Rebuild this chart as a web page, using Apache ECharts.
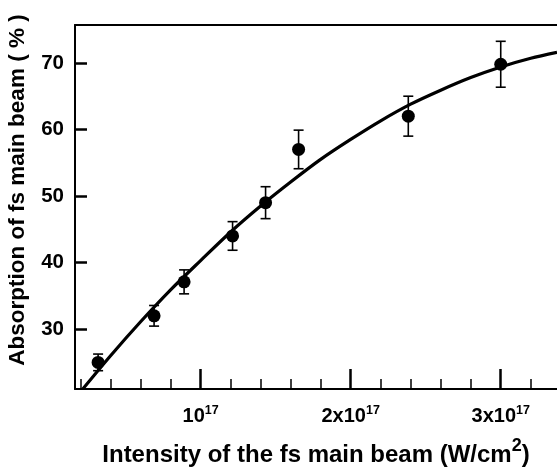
<!DOCTYPE html>
<html>
<head>
<meta charset="utf-8">
<script src="https://cdn.jsdelivr.net/npm/echarts@6/dist/echarts.min.js"></script>
<style>
html,body{margin:0;padding:0;background:#fff;}
#chart{width:557px;height:473px;}
</style>
</head>
<body>
<div id="chart"></div>
<script>
// Measured data points (intensity in units of 1e17 W/cm^2, absorption %)
const intensity = [0.317, 0.69, 0.89, 1.213, 1.433, 1.653, 2.384, 3.0];
const absorption = [25.0, 32.0, 37.1, 44.0, 49.0, 57.0, 62.0, 69.8];
const errors = [1.25, 1.55, 1.8, 2.15, 2.4, 2.9, 3.0, 3.45];

// Fitted curve
const fitX = [0.215, 0.4, 0.6, 0.8, 1.0, 1.2, 1.4, 1.6, 1.8, 2.0, 2.2, 2.4, 2.6, 2.8, 3.0, 3.2, 3.375];
const fitY = [21.0, 26.0, 31.1, 35.9, 40.3, 44.6, 48.5, 52.1, 55.5, 58.5, 61.3, 63.8, 65.9, 67.8, 69.4, 70.7, 71.6];

// Ticks
const yTicks = [30, 40, 50, 60, 70];
const xMajorTicks = [1, 2, 3];
const xMajorLabels = ['10', '2x10', '3x10'];
const xExponent = '17';
const xMinorTicks = [0.2, 0.4, 0.6, 0.8, 1.2, 1.4, 1.6, 1.8, 2.2, 2.4, 2.6, 2.8, 3.2];

const xMin = 0.163, xMax = 3.375, yMin = 21, yMax = 75.7;
const FONT = '"Liberation Sans", Arial, sans-serif';

const chart = echarts.init(document.getElementById('chart'));

const pts = intensity.map((x, i) => [x, absorption[i], errors[i]]);
const fit = fitX.map((x, i) => [x, fitY[i]]);

const option = {
  animation: false,
  backgroundColor: '#fff',
  grid: {left: 75, right: 0, top: 25, bottom: 84, containLabel: false},
  xAxis: [
    {
      type: 'value', min: xMin, max: xMax, position: 'bottom',
      splitLine: {show: false},
      axisLine: {show: true, onZero: false, lineStyle: {color: '#000', width: 2}},
      axisTick: {show: true, inside: true, length: 20, customValues: xMajorTicks, lineStyle: {color: '#000', width: 2.5}},
      axisLabel: {
        show: true, margin: 15, customValues: xMajorTicks,
        formatter: function (v) {
          const i = xMajorTicks.findIndex(t => Math.abs(t - v) < 1e-6);
          return '{b|' + xMajorLabels[i] + '}{s|' + xExponent + '}';
        },
        rich: {
          b: {fontFamily: FONT, fontWeight: 'bold', fontSize: 20, color: '#000', lineHeight: 22, verticalAlign: 'bottom'},
          s: {fontFamily: FONT, fontWeight: 'bold', fontSize: 12.5, color: '#000', lineHeight: 22, verticalAlign: 'top'}
        }
      },
      name: '{t|Intensity of the fs main beam (W/cm}{s|2}{t|)}',
      nameLocation: 'middle', nameGap: 48,
      nameTextStyle: {
        rich: {
          t: {fontFamily: FONT, fontWeight: 'bold', fontSize: 24, color: '#000', lineHeight: 30, verticalAlign: 'bottom'},
          s: {fontFamily: FONT, fontWeight: 'bold', fontSize: 18, color: '#000', lineHeight: 30, verticalAlign: 'top'}
        }
      }
    },
    {
      type: 'value', min: xMin, max: xMax, position: 'bottom',
      splitLine: {show: false},
      axisLine: {show: false},
      axisTick: {show: true, inside: true, length: 10, customValues: xMinorTicks, lineStyle: {color: '#000', width: 1.5}},
      axisLabel: {show: false}
    },
    {
      type: 'value', min: xMin, max: xMax, position: 'top',
      splitLine: {show: false},
      axisLine: {show: true, onZero: false, lineStyle: {color: '#000', width: 2}},
      axisTick: {show: false},
      axisLabel: {show: false}
    }
  ],
  yAxis: {
    type: 'value', min: yMin, max: yMax,
    splitLine: {show: false},
    axisLine: {show: true, onZero: false, lineStyle: {color: '#000', width: 2}},
    axisTick: {show: true, inside: true, length: 12, customValues: yTicks, lineStyle: {color: '#000', width: 2.5}},
    axisLabel: {show: true, margin: 11, customValues: yTicks, fontFamily: FONT, fontWeight: 'bold', fontSize: 20.5, color: '#000'}
  },
  graphic: [
    {
      type: 'text', x: 18, y: 190, rotation: Math.PI / 2,
      style: {
        text: 'Absorption of fs main beam ( % )',
        fontFamily: FONT, fontWeight: 'bold', fontSize: 22.5, fill: '#000',
        align: 'center', verticalAlign: 'middle'
      }
    }
  ],
  series: [
    {
      type: 'line', xAxisIndex: 0, data: fit, smooth: 0.3, showSymbol: false,
      lineStyle: {color: '#000', width: 3.2}, z: 2
    },
    {
      type: 'custom', xAxisIndex: 0, data: pts, z: 3,
      renderItem: function (params, api) {
        const x = api.value(0), y = api.value(1), e = api.value(2);
        const top = api.coord([x, y + e]);
        const bot = api.coord([x, y - e]);
        const hw = 5;
        const st = {stroke: '#000', lineWidth: 1.6};
        return {
          type: 'group', children: [
            {type: 'line', shape: {x1: top[0], y1: top[1], x2: bot[0], y2: bot[1]}, style: st},
            {type: 'line', shape: {x1: top[0] - hw, y1: top[1], x2: top[0] + hw, y2: top[1]}, style: st},
            {type: 'line', shape: {x1: bot[0] - hw, y1: bot[1], x2: bot[0] + hw, y2: bot[1]}, style: st}
          ]
        };
      }
    },
    {
      type: 'scatter', xAxisIndex: 0, data: pts.map(p => [p[0], p[1]]),
      symbol: 'circle', symbolSize: 13, itemStyle: {color: '#000', opacity: 1}, z: 4
    }
  ]
};
chart.setOption(option);
</script>
</body>
</html>
